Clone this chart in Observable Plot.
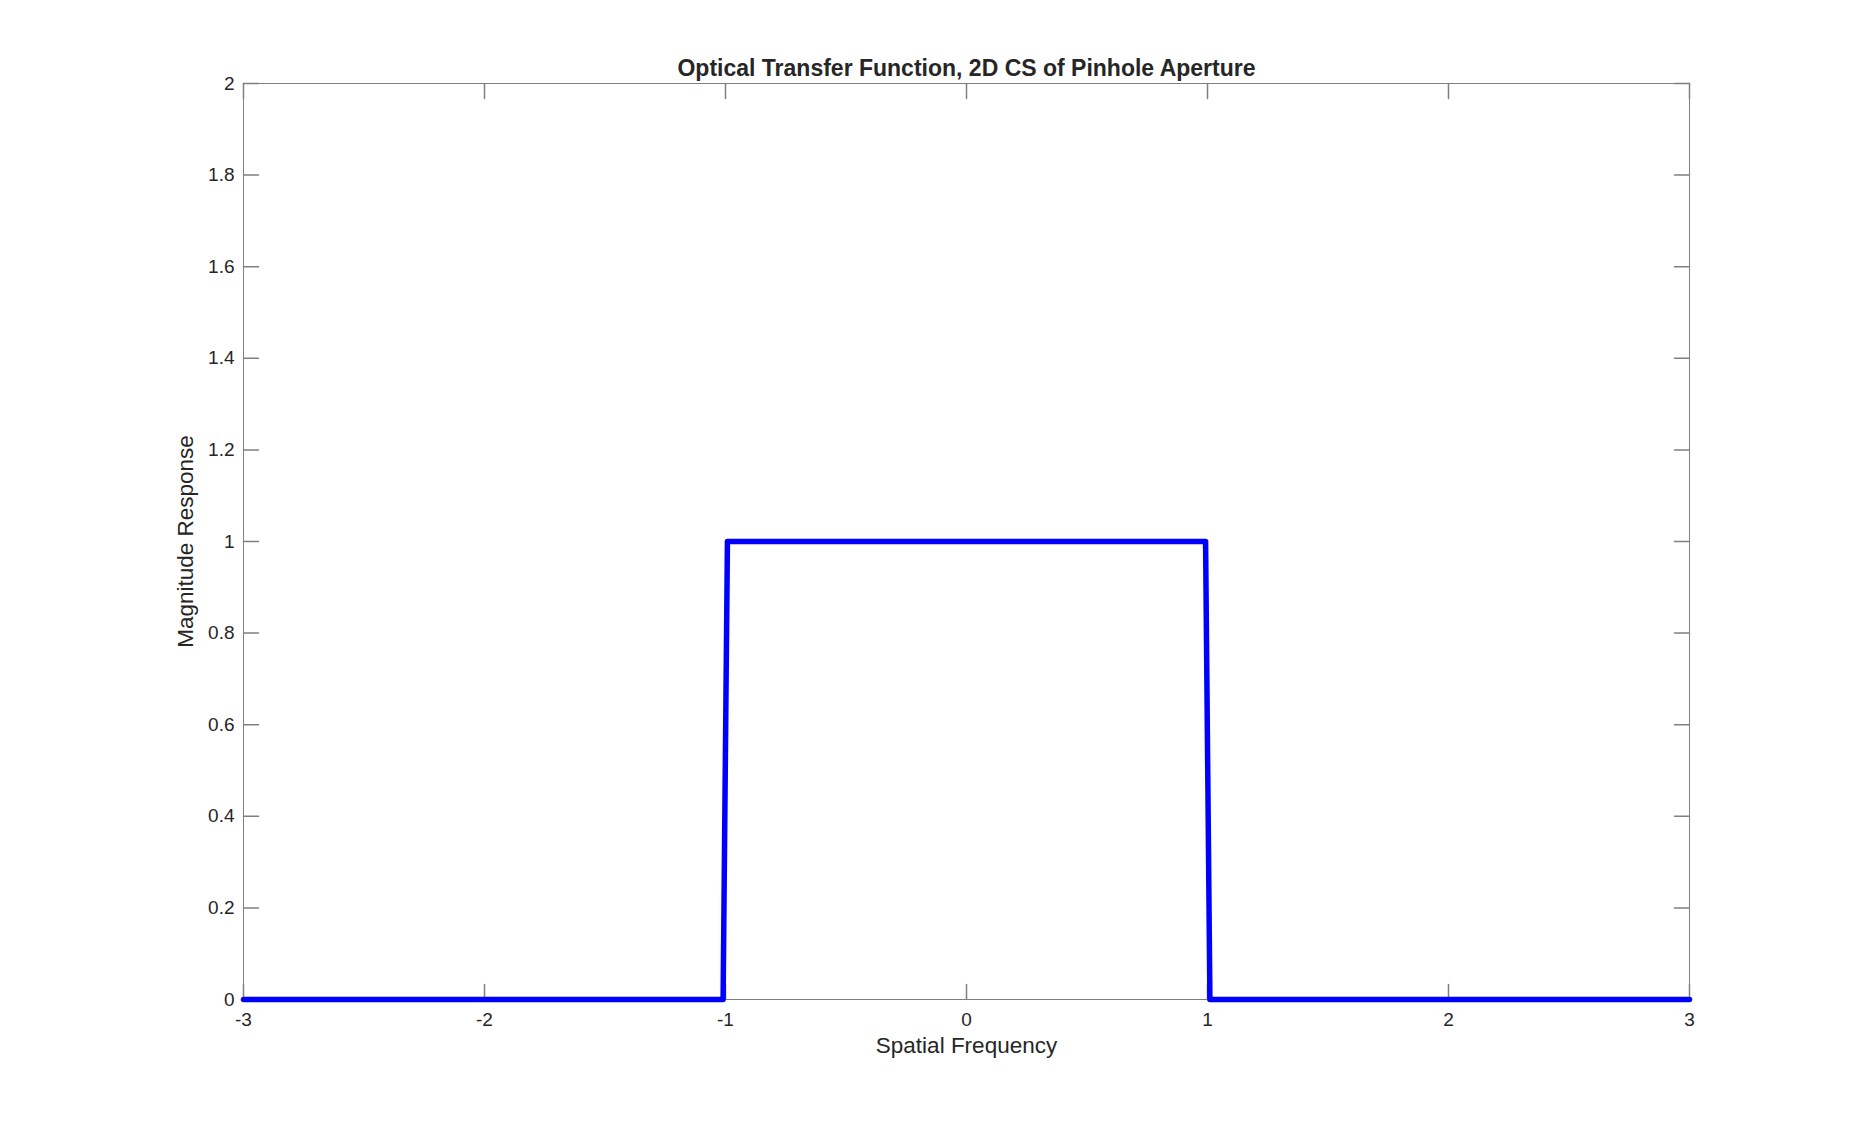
<!DOCTYPE html>
<html>
<head>
<meta charset="utf-8">
<script src="https://cdn.jsdelivr.net/npm/d3@7"></script>
<script src="https://cdn.jsdelivr.net/npm/@observablehq/plot@0.6"></script>
<style>
  html, body { margin: 0; padding: 0; background: #fff; }
  #chart svg { display: block; }
</style>
</head>
<body>
<div id="chart"></div>
<script>
const freq = [-3, -1.01, -0.992, 0.992, 1.01, 3];
const magnitude = [0, 0, 1, 1, 0, 0];
const xTicks = [-3, -2, -1, 0, 1, 2, 3];
const yTicks = [0, 0.2, 0.4, 0.6, 0.8, 1, 1.2, 1.4, 1.6, 1.8, 2];
const titleText = "Optical Transfer Function, 2D CS of Pinhole Aperture";
const xLabel = "Spatial Frequency";
const yLabel = "Magnitude Response";

const data = freq.map((f, i) => ({f, m: magnitude[i]}));
const axisColor = "#808080";
const textColor = "#262626";
const tickLine = {draw(context, l) { context.moveTo(0, 0); context.lineTo(0, -l); }};

const chart = Plot.plot({
  width: 1866,
  height: 1124,
  marginLeft: 243,
  marginRight: 177,
  marginTop: 83,
  marginBottom: 125,
  style: {fontFamily: "'Liberation Sans', Arial, Helvetica, sans-serif", color: textColor, background: "#fff"},
  x: {domain: [-3, 3]},
  y: {domain: [0, 2]},
  marks: [
    Plot.frame({stroke: axisColor, strokeWidth: 1}),
    Plot.vector(xTicks, {x: d => d, frameAnchor: "bottom", length: 15, rotate: 0, anchor: "start", shape: tickLine, stroke: axisColor}),
    Plot.vector(xTicks, {x: d => d, frameAnchor: "top", length: 15, rotate: 180, anchor: "start", shape: tickLine, stroke: axisColor}),
    Plot.vector(yTicks, {y: d => d, frameAnchor: "left", length: 15, rotate: 90, anchor: "start", shape: tickLine, stroke: axisColor}),
    Plot.vector(yTicks, {y: d => d, frameAnchor: "right", length: 15, rotate: -90, anchor: "start", shape: tickLine, stroke: axisColor}),
    Plot.axisX({ticks: xTicks, tickSize: 0, tickPadding: 13, fontSize: 19, label: null, tickFormat: d => String(d), fill: textColor}),
    Plot.axisY({ticks: yTicks, tickSize: 0, tickPadding: 9, fontSize: 19, label: null, tickFormat: d => String(d), fill: textColor}),
    Plot.line(data, {x: "f", y: "m", stroke: "#0000ff", strokeWidth: 5.5, curve: "linear"}),
    Plot.text([titleText], {text: d => d, frameAnchor: "top", dy: -15, fontSize: 23, fontWeight: "bold", fill: textColor, lineAnchor: "middle", textAnchor: "middle"}),
    Plot.text([xLabel], {text: d => d, frameAnchor: "bottom", dy: 46, fontSize: 22.5, fill: textColor, lineAnchor: "middle", textAnchor: "middle"}),
    Plot.text([yLabel], {text: d => d, frameAnchor: "left", dx: -58, rotate: -90, fontSize: 22.5, fill: textColor, lineAnchor: "middle", textAnchor: "middle"})
  ]
});
document.getElementById("chart").appendChild(chart);
</script>
</body>
</html>
